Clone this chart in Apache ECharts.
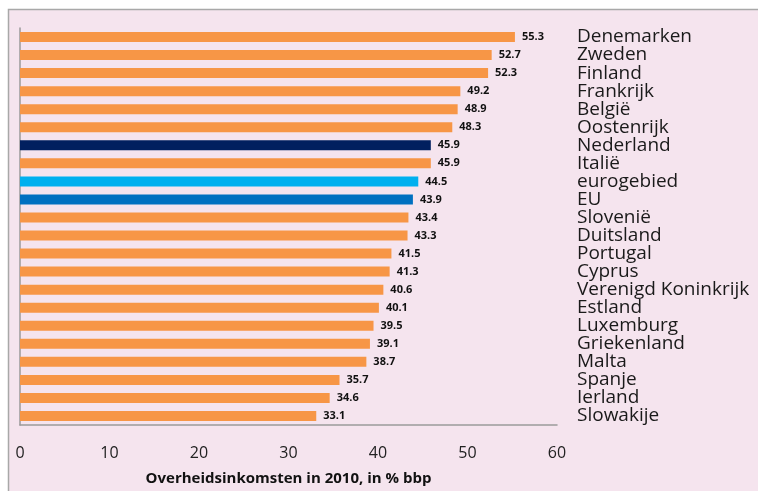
<!DOCTYPE html>
<html>
<head>
<meta charset="utf-8">
<script src="https://cdn.jsdelivr.net/npm/echarts@6/dist/echarts.min.js"></script>
<style>
  html, body { margin: 0; padding: 0; background: #fff; }
  #chart { width: 758px; height: 491px; }
</style>
</head>
<body>
<div id="chart"></div>
<script>
// data
const countries = ['Denemarken', 'Zweden', 'Finland', 'Frankrijk', 'België', 'Oostenrijk', 'Nederland', 'Italië', 'eurogebied', 'EU', 'Slovenië', 'Duitsland', 'Portugal', 'Cyprus', 'Verenigd Koninkrijk', 'Estland', 'Luxemburg', 'Griekenland', 'Malta', 'Spanje', 'Ierland', 'Slowakije']
const revenue = [55.3, 52.7, 52.3, 49.2, 48.9, 48.3, 45.9, 45.9, 44.5, 43.9, 43.4, 43.3, 41.5, 41.3, 40.6, 40.1, 39.5, 39.1, 38.7, 35.7, 34.6, 33.1]
const xTicks = [0, 10, 20, 30, 40, 50, 60]
const axisTitle = 'Overheidsinkomsten in 2010, in % bbp'

// highlight colours
const special = {
  'Nederland': '#01205f',
  'eurogebied': '#00b0ef',
  'EU': '#0070c0'
}
const orange = '#f79646'

const chart = echarts.init(document.getElementById('chart'))

const option = {
  backgroundColor: '#ffffff',
  animation: false,
  graphic: [
    {
      type: 'rect',
      z: -10,
      shape: { x: 8.5, y: 9.5, width: 780, height: 500 },
      style: { fill: '#f5e4ee', stroke: '#a8a8a8', lineWidth: 1.5 }
    }
  ],
  grid: {
    left: 20,
    right: 201,
    top: 28,
    bottom: 66,
    containLabel: false,
    outerBoundsMode: 'none'
  },
  xAxis: {
    type: 'value',
    min: 0,
    max: 60,
    interval: 10,
    name: axisTitle,
    nameLocation: 'middle',
    nameGap: 46,
    nameTextStyle: {
      fontFamily: 'Open Sans',
      fontWeight: 'bold',
      fontSize: 15,
      color: '#111'
    },
    axisLine: { show: true, lineStyle: { color: '#9a9a9a', width: 1.5 } },
    axisTick: { show: false },
    splitLine: { show: false },
    axisLabel: {
      margin: 20,
      fontFamily: 'Open Sans',
      fontSize: 16,
      color: '#222',
      formatter: v => xTicks.includes(v) ? String(v) : ''
    }
  },
  yAxis: [
    {
      type: 'category',
      data: countries,
      inverse: true,
      position: 'right',
      axisLine: { show: false },
      axisTick: { show: false },
      axisLabel: {
        interval: 0,
        margin: 20,
        align: 'left',
        fontFamily: 'Open Sans',
        fontSize: 19,
        lineHeight: 18,
        color: '#1a1a1a'
      }
    },
    {
      type: 'category',
      data: countries,
      inverse: true,
      position: 'left',
      axisLine: { show: true, lineStyle: { color: '#9a9a9a', width: 1.5 } },
      axisTick: { show: false },
      axisLabel: { show: false }
    }
  ],
  series: [
    {
      type: 'bar',
      yAxisIndex: 0,
      barWidth: 10,
      data: revenue.map((v, i) => ({
        value: v,
        itemStyle: { color: special[countries[i]] || orange }
      })),
      label: {
        show: true,
        position: 'right',
        distance: 7,
        fontFamily: 'Open Sans',
        fontWeight: 'bold',
        fontSize: 11,
        color: '#111',
        formatter: p => p.value.toFixed(1)
      }
    }
  ]
}

chart.setOption(option)
</script>
</body>
</html>
